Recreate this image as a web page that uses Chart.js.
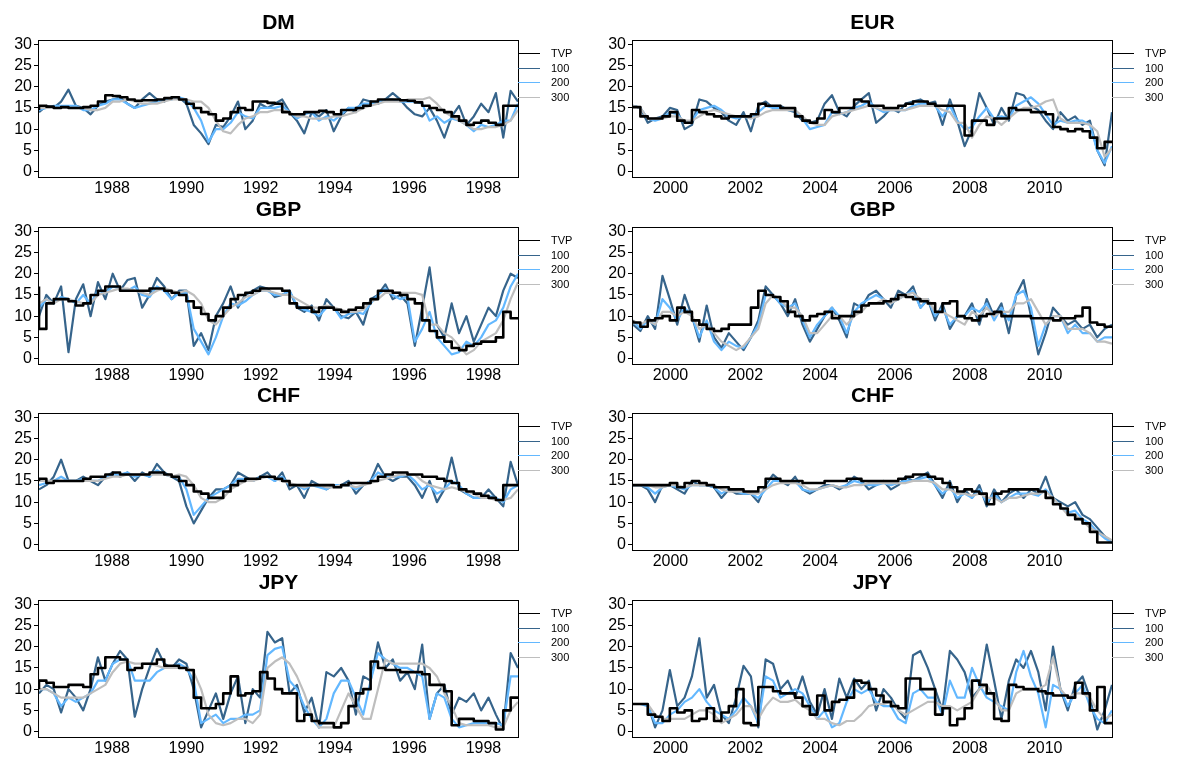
<!DOCTYPE html>
<html>
<head>
<meta charset="utf-8">
<script src="https://cdn.jsdelivr.net/npm/chart.js@4.4.1/dist/chart.umd.min.js"></script>
<style>
  html, body { margin: 0; padding: 0; background: #fff; }
  #wrap { position: relative; width: 1179px; height: 761px; overflow: hidden; background: #fff; }
  #wrap canvas { position: absolute; }
</style>
</head>
<body>
<div id="wrap"></div>
<script>
// Legend entries and their line colours
const seriesNames = ['TVP', '100', '200', '300'];
const seriesColors = ['#000000', '#36648B', '#63B8FF', '#BEBEBE'];

// Axis ticks
const yTicks = [0, 5, 10, 15, 20, 25, 30];
const yearsA = [1988, 1990, 1992, 1994, 1996, 1998];
const yearsB = [2000, 2002, 2004, 2006, 2008, 2010];

// Sample period covered by each column (decimal years)
const spanA = [1986.03, 1998.93];
const spanB = [1999.0, 2011.8];

// ---- DM, 1986-1998 ----
const dmTVP = [14.5, 15.5, 15.3, 15, 15.2,
  15, 15, 15.2, 15.5, 16.5,
  18, 17.8, 17.5, 17, 16.7,
  16.8, 16.8, 17, 17.3, 17.5,
  17, 16, 15, 14, 13.5,
  12, 12.5, 14, 15, 14.5,
  16.5, 16.5, 16.2, 16, 14,
  13.5, 13.5, 14, 14, 14.3,
  14, 13.5, 14.5, 14.5, 15,
  15.5, 16.5, 17, 17, 17,
  16.8, 16.7, 16.3, 15.5, 15,
  14.5, 14, 13, 12, 11,
  11.5, 12, 11.5, 11, 15.5, 15.5];
const dm100 = [14, 15.5, 15, 16.5, 19.3,
  15.5, 15, 13.5, 15.5, 16.5,
  17, 17.5, 16, 15, 17,
  18.5, 17, 16.5, 17.5, 17.5,
  16, 11, 9, 6.5, 11,
  10.5, 13, 16.5, 10, 12,
  16, 15, 16, 17, 14,
  12, 9, 14, 13, 14.5,
  9.5, 13, 15, 14, 17,
  16.5, 16, 17, 18.5, 17,
  15, 13.5, 13, 15, 12,
  8, 13, 15.5, 11, 13,
  16, 14, 18.5, 8, 19, 16.5];
const dm200 = [14.5, 15, 15.5, 15.5, 15.5,
  15.5, 14.5, 14.5, 15.5, 16,
  17, 17, 16, 15, 15.5,
  16, 16.5, 17, 17, 17.5,
  17, 15, 12, 7, 10,
  10, 11.5, 14, 13, 12.5,
  15, 15, 15, 15.5, 14,
  12.5, 13.5, 14, 12, 13,
  12, 13.5, 15, 15, 16,
  16, 16.5, 17, 17, 16.5,
  16.5, 16.5, 16, 12, 13,
  11.5, 12.5, 12, 11, 9.5,
  11, 10.5, 11, 12, 12, 16];
const dm300 = [15, 15, 15, 15, 15,
  15, 15, 14.5, 14.5, 15,
  16.5, 16.5, 17, 16.5, 16,
  16, 16, 16.5, 17, 17,
  17, 16.5, 16.5, 15, 12,
  9.5, 9, 11, 12.5, 13,
  14, 14, 14.5, 14.5, 14,
  13, 13, 12.5, 12.5, 12.5,
  13, 13, 13.5, 14, 15,
  15.5, 16, 16.5, 16.5, 16.5,
  17, 17, 17, 17.5, 16,
  14, 13, 12, 11, 10,
  10, 10.5, 10.5, 11, 12, 14.5];

// ---- EUR, 1999-2011 ----
const eurTVP = [15.5, 15.2, 13, 12.5, 12.5,
  13, 14, 12, 11.5, 14.5,
  14, 13.5, 13, 12.5, 13,
  13, 13, 13.5, 16, 15.5,
  15.5, 15, 15, 13, 12,
  11.5, 12.5, 14.5, 14, 15,
  15, 17, 16.5, 15.5, 15.5,
  15, 15, 15.5, 16, 16.5,
  16.5, 16, 15.5, 15.5, 15.5,
  15.5, 8.5, 12, 12, 11,
  12.5, 12.5, 15, 14.5, 14.5,
  14, 14, 13.5, 10.5, 10,
  9.5, 10, 9.5, 8, 5.5, 7];
const eur100 = [15.5, 15, 11.5, 12.5, 13,
  15, 14.5, 10, 11, 17,
  16.5, 15, 14, 12, 11,
  14, 9.5, 15.5, 16.5, 15,
  15.5, 14.5, 14, 12, 11.5,
  12, 16, 18, 14, 13,
  15.5, 17, 18.5, 11.5, 13,
  15, 14, 16, 16.5, 17,
  16, 16.5, 11, 17, 12,
  6, 10, 18.5, 15, 11,
  15, 12, 18.5, 18, 15.5,
  14.5, 12, 10, 14, 12,
  13, 11, 12, 5, 1.5, 14];
const eur200 = [15.5, 15, 12.5, 12, 12.5,
  14, 13.5, 11.5, 12, 14.5,
  15, 15.5, 14.5, 13, 12.5,
  13, 12.5, 14, 15.5, 15,
  15, 14.5, 14.5, 12.5, 10,
  10.5, 11, 14, 13.5, 14,
  15, 15.5, 16.5, 15, 14,
  14.5, 14.5, 14.5, 15.5, 16,
  16, 15.5, 13, 15.5, 12,
  10, 10.5, 13, 15, 12.5,
  13, 12.5, 15.5, 16.5, 17.5,
  16, 13.5, 11, 12, 11.5,
  12, 12, 11, 5, 2, 6];
const eur300 = [15.5, 15, 12.5, 12.5, 12.5,
  13, 13, 12, 12, 13,
  14, 14.5, 14, 13.5, 13,
  13, 12.5, 13, 14, 14.5,
  14.5, 14.5, 14.5, 13, 11.5,
  11, 11, 13, 13.5, 14,
  14.5, 15, 15.5, 15, 14.5,
  14.5, 14.5, 14.5, 15, 15.5,
  15.5, 15.5, 14.5, 14, 11.5,
  11.5, 8, 11, 13, 12.5,
  11, 12.5, 14, 15, 15,
  15.5, 16.5, 17, 12.5, 11.5,
  11.5, 11.5, 11, 9.5, 3.5, 5.5];

// ---- GBP, 1986-1998 ----
const gbpATVP = [17, 7, 13, 14, 14,
  13.5, 12.5, 13, 15, 16,
  17, 17, 16, 16, 16,
  16, 16.5, 16.5, 16, 15.5,
  15, 13.5, 12, 10.5, 9,
  10, 12, 14, 15, 15.5,
  16, 16.5, 16.5, 16.5, 16,
  13, 12, 12, 11, 12,
  12, 11.5, 11, 11.5, 12,
  13, 14, 16, 16, 15.5,
  15, 14, 13, 9, 6.5,
  5, 4, 2.5, 2, 3,
  3.5, 4, 4, 5, 11, 9.5];
const gbpA100 = [10, 15, 13, 17, 1.5,
  14, 17.5, 10, 18, 14,
  20, 16, 18.5, 19, 12,
  15, 19, 17, 14, 16,
  16, 3, 6, 2, 10,
  13, 17, 12, 15, 16,
  17, 16.5, 14.5, 15, 16,
  12, 11, 12.5, 9, 14,
  12, 10, 9.5, 11, 8,
  14, 15, 17.5, 14, 15,
  13, 3, 12, 21.5, 8,
  5, 13, 6, 10, 4,
  8, 12, 10, 16, 20, 19];
const gbpA200 = [12, 14, 13, 14.5, 14,
  13, 15, 13, 16, 15.5,
  17, 16.5, 16, 17, 15,
  14.5, 17, 16, 14, 15.5,
  15.5, 7, 4, 1, 5,
  10, 13, 12.5, 13.5, 15,
  16, 16, 15, 15, 16,
  12.5, 11.5, 11, 10, 12,
  12, 9.5, 10.5, 11, 10.5,
  13, 15, 16.5, 15, 14,
  14.5, 4, 7, 11, 5,
  3, 1, 1.5, 4, 3,
  5, 8, 9, 12, 17, 20];
const gbpA300 = [13, 14, 13, 14, 14,
  13.5, 13, 13, 15, 15.5,
  16, 16.5, 16.5, 16, 15.5,
  15, 16, 16.5, 16, 15.5,
  16, 15, 13, 9, 8,
  10, 12, 13, 14.5, 15,
  16, 16, 15.5, 15, 15,
  14, 13, 12, 12, 12.5,
  12, 11.5, 11, 11, 11.5,
  13.5, 14, 15.5, 15.5, 15.5,
  15.5, 15.5, 15, 8, 8,
  6, 5, 3, 1, 2,
  4, 5, 6, 9, 14, 18];

// ---- GBP, 1999-2011 ----
const gbpBTVP = [9, 8.5, 7.5, 9, 9.5,
  10, 9, 12, 11, 9,
  8, 7, 6.5, 7, 8,
  8, 8, 12, 16, 15,
  14.5, 13.5, 11, 10, 9,
  10, 10.5, 11, 9.5, 10,
  10, 11, 12.5, 13, 13,
  13.5, 14, 15, 14.5, 14,
  13.5, 13, 11, 13, 13.5,
  10, 9.5, 9, 10, 10.5,
  11, 10, 10, 10, 10,
  9.5, 9.5, 9.5, 9, 9.5,
  9.5, 10, 12, 8.5, 8, 7.5];
const gbpB100 = [8, 6.5, 10, 7, 19.5,
  14, 8, 15, 10, 4,
  12.5, 5, 2.5, 6, 4,
  2, 5, 9, 17, 15,
  13, 10, 14, 8, 4,
  7, 10, 12, 9, 5,
  13, 12, 15, 16, 14,
  12, 16, 15, 17, 12,
  14, 9, 13, 7, 10,
  10, 13, 8, 14, 10,
  13, 6, 15, 18.5, 10,
  1, 6, 12, 10, 8,
  9, 7, 8, 5, 7, 8];
const gbpB200 = [9, 7, 9, 8, 14,
  12, 9, 12, 10, 5,
  9, 4, 2, 4, 3,
  2.5, 5, 8, 15, 15,
  13, 12, 13, 9, 5,
  8, 10, 12, 10, 6,
  11, 13, 14, 15, 14,
  13, 14, 15, 16, 12,
  14, 10, 12, 8, 10,
  10, 12, 11, 13, 9,
  12, 9, 15, 16, 12,
  3, 8, 10, 10, 6,
  8, 6, 6, 4, 5, 5];
const gbpB300 = [9, 8, 9, 8, 11,
  11, 10, 11, 10, 7,
  8, 6, 4, 3, 2,
  3, 5, 7, 13, 15,
  14, 12, 12, 10, 6,
  6, 8, 10, 10, 8,
  10, 11, 13, 13, 14,
  13, 14, 15, 15.5, 14,
  14, 11, 11, 10, 9,
  8, 11, 10, 12, 10,
  11, 11, 13, 13, 14,
  11, 8, 10, 10, 7,
  7, 7, 6, 4, 4, 3.5];

// ---- CHF, 1986-1998 ----
const chfATVP = [15, 15.5, 14.5, 15, 15,
  15, 15, 15.5, 16, 16,
  16.5, 17, 16.5, 16.5, 16.5,
  16.5, 17, 17, 16.5, 16,
  15, 14, 12.5, 12, 11,
  11, 12.5, 14, 15, 15.5,
  15.5, 16, 16, 15.5, 15,
  14, 14, 14, 14, 14,
  14, 13.5, 14, 14.5, 14.5,
  14.5, 15, 16, 16.5, 17,
  17, 16.5, 16.5, 16, 16,
  15.5, 15, 14.5, 13, 12.5,
  12, 11.5, 11, 10.5, 14, 14];
const chfA100 = [13, 14, 16, 20, 15,
  15, 16, 15, 14, 16,
  17, 16, 17, 15, 17,
  16, 19, 17, 16, 15,
  9, 5, 8, 11, 13,
  13, 14, 17, 16, 15,
  16, 17, 15, 17, 13,
  14, 11, 15, 14, 13,
  14, 14, 15, 12, 14,
  15, 19, 16, 15, 16,
  16, 14, 11, 15, 10,
  13, 20.5, 13, 12, 11,
  11, 13, 11, 9, 19.5, 14];
const chfA200 = [14, 14.5, 15, 16, 15,
  15, 15.5, 15, 15, 16,
  16.5, 16.5, 17, 16, 16.5,
  16, 17.5, 16.5, 16, 16,
  13, 7, 9, 11, 12,
  13, 14, 15.5, 15.5, 15,
  16, 16, 15, 16, 14,
  14, 13, 14, 13.5, 13,
  14, 14, 14, 13, 14,
  15, 17, 16, 16, 16,
  16.5, 15, 13, 14, 12,
  13, 15, 14, 12, 11,
  11, 11.5, 11, 10, 13, 14];
const chfA300 = [15, 15, 15, 15, 15,
  15, 15, 15, 15, 15.5,
  16, 16, 16.5, 16.5, 16.5,
  16.5, 16.5, 16.5, 16, 16.5,
  16, 14, 11, 10, 10,
  11, 13, 14, 15, 15,
  15.5, 16, 15.5, 15, 14.5,
  14, 13.5, 14, 14, 13.5,
  13.5, 14, 14, 13.5, 14,
  14.5, 15, 15.5, 16, 16.5,
  16.5, 16.5, 15, 14, 13.5,
  13, 13.5, 13, 12.5, 12,
  11, 11, 10.5, 10.5, 11, 13];

// ---- CHF, 1999-2011 ----
const chfBTVP = [14, 14, 14, 14, 14,
  14, 14.5, 13.5, 14.5, 15,
  14.5, 14, 13.5, 13.5, 13,
  13, 12.5, 12.5, 13.5, 15.5,
  15.5, 15, 15, 15, 14.5,
  14.5, 14.5, 15, 15, 15,
  15.5, 15.5, 15, 15, 15,
  15, 15, 15.5, 16, 16.5,
  16.5, 16, 15.5, 14.5, 13.5,
  12.5, 13, 12.5, 12, 9.5,
  12, 12.5, 13, 13, 13,
  13, 12.5, 11, 9.5, 8.5,
  7, 6, 5, 3, 0.5, 0.5];
const chfB100 = [14, 14, 13, 10, 14,
  14, 13, 12, 15, 14,
  14, 13.5, 11, 13, 12,
  12, 12, 10, 14, 16.5,
  15, 14, 16, 13, 12,
  13, 14, 14, 13, 14,
  16, 15, 13, 14, 15,
  13, 14, 16, 15, 16,
  17, 14, 11, 15, 10,
  13, 11, 14, 9, 13,
  10, 12, 13, 11, 13,
  12, 16, 11, 10, 9,
  10, 7, 6, 4, 2, 0.5];
const chfB200 = [14, 14, 13.5, 12, 13.5,
  14, 13.5, 13, 14, 14,
  14, 13.5, 12, 13, 12.5,
  12, 12, 11, 13, 15,
  15, 14.5, 15, 13, 12.5,
  13, 13.5, 14, 13.5, 14,
  15, 14.5, 14, 14, 14.5,
  14, 14.5, 15, 15, 15.5,
  16, 14, 12, 13.5, 11,
  12, 11, 13, 10, 12,
  10, 11, 12, 12, 12,
  11.5, 13, 11, 9, 7.5,
  8, 6, 5, 3, 1.5, 0.5];
const chfB300 = [14, 14, 14, 13.5, 13.5,
  14, 14, 13.5, 14, 14,
  14, 14, 13, 12.5, 12.5,
  12.5, 12, 12, 13, 14,
  14.5, 14.5, 14.5, 14, 13,
  13, 13.5, 14, 13.5, 13.5,
  14, 14, 14.5, 14.5, 14.5,
  14.5, 14.5, 14.5, 15, 15,
  15, 14.5, 13, 13, 12,
  12, 11.5, 12, 11, 11,
  10, 11, 11, 11.5, 12,
  12, 12.5, 11, 9, 7,
  7, 5.5, 4, 3, 2, 1];

// ---- JPY, 1986-1998 ----
const jpyATVP = [10, 12, 11.5, 10.5, 10.5,
  11, 11, 10.5, 13.5, 15,
  17.5, 17.5, 17, 14.5, 15,
  16, 16, 17, 15.5, 15.5,
  15, 14.5, 8, 5.5, 5.5,
  6.5, 9, 13, 8.5, 9,
  9.5, 14, 12.5, 10, 9,
  9, 2.5, 4, 2.5, 2,
  2, 1, 2, 6, 9,
  10, 16.5, 15, 14.5, 14.5,
  14, 14, 14, 13.5, 11,
  11, 9.5, 1.5, 3, 3,
  2.5, 2.5, 2, 0.5, 5, 8];
const jpyA100 = [9, 11, 10, 4.5, 10,
  8, 5, 10, 17.5, 12,
  16, 19, 17, 3.5, 10,
  15, 19.5, 16, 15, 17,
  16, 10, 1, 5, 9,
  3, 9, 13, 2, 10,
  8, 23.5, 21, 22, 9,
  11, 4.5, 8, 1, 14,
  13, 15, 12, 4, 13,
  12, 21, 15, 17, 12,
  14, 10, 20.5, 3, 9,
  11, 4, 8, 7, 9,
  5, 8, 4, 0.5, 18.5, 15];
const jpyA200 = [10, 10, 9, 6, 8,
  7, 8, 9, 12, 12,
  16, 17, 17, 12, 12,
  12, 14, 15, 15, 16,
  15, 12, 2, 3, 4,
  2, 3, 3, 4, 4,
  5, 18, 19.5, 20, 12,
  10, 6, 3, 1, 3,
  9, 12, 12, 8, 4,
  12, 18.5, 17, 16, 15,
  15, 14, 13, 3, 9,
  8, 3, 1, 1.5, 2,
  2, 2, 2, 1.5, 13, 13];
const jpyA300 = [10, 10, 9, 8, 8,
  8, 8, 9, 10, 11,
  14, 16, 16.5, 16, 16,
  16, 15.5, 15, 15, 15,
  15, 14, 10, 4, 2,
  1.5, 2, 3, 3, 2,
  4, 15, 16.5, 17.5, 16,
  13, 9, 4, 1, 1,
  1, 5, 9, 6, 3,
  3, 10, 17, 16, 16,
  16, 16, 16, 15, 13,
  9, 6, 2, 1.5, 1.5,
  1.5, 1.5, 1, 1, 5, 7];

// ---- JPY, 1999-2011 ----
const jpyBTVP = [6.5, 6.5, 6.5, 4, 3.5,
  2.5, 5.5, 4.5, 5, 2.5,
  3, 5.5, 2.5, 4.5, 6,
  10, 2, 1.5, 10.5, 10.5,
  9.5, 9, 9, 8, 6,
  4, 8.5, 5, 7, 7.5,
  8, 12, 11.5, 10, 8.5,
  7, 6, 5.5, 12.5, 12.5,
  10, 10, 4, 5.5, 1.5,
  3, 5.5, 12, 11, 9,
  3, 2.5, 11, 10.5, 10,
  10, 9.5, 9, 8.5, 8.5,
  8, 11.5, 9, 5, 10.5, 2];
const jpyB100 = [6.5, 6.5, 6.5, 1, 5,
  14.5, 6, 8, 13, 22,
  8, 11, 4, 2, 8,
  15.5, 13, 1, 17, 16,
  10, 12, 8, 13, 7,
  4, 10, 3, 12.5, 8,
  12.5, 10, 12, 5, 10,
  8, 5, 3, 18, 19,
  15, 10, 5, 19, 17,
  14, 8, 10, 20.5, 12,
  3, 12, 17, 15, 19,
  14, 5, 20, 10, 5,
  11, 13, 8, 0.5, 5, 11];
const jpyB200 = [6.5, 6.5, 6, 2, 2,
  4, 5, 7, 8, 10,
  7, 5, 4, 3, 5,
  8, 6, 2, 13, 12,
  8, 9, 10, 9, 6,
  3, 5, 1, 2, 7,
  10, 9, 10, 7, 6,
  6, 3, 2, 9, 10,
  8, 8, 4, 12, 8,
  8, 15, 11, 8, 7,
  6, 5, 14, 19, 13,
  9, 1, 11, 10, 6,
  9, 11, 6, 3, 2, 5];
const jpyB300 = [6.5, 6.5, 6.5, 4, 3,
  3, 3, 3, 4, 5,
  5, 4, 2, 3, 4,
  6, 6, 3, 6, 8,
  7, 7, 7.5, 6, 5,
  3, 3, 2, 1.5, 2.5,
  2.5, 4, 6, 6.5, 6.5,
  7, 5, 4, 5, 6,
  7, 7, 6, 6, 5,
  6, 7, 10, 11, 8,
  5, 5, 9, 10, 10,
  10, 11, 17.5, 10, 8,
  9, 9, 8, 5, 3, 4];

const panels = [
  { title: 'DM',  col: 0, row: 0, span: spanA, years: yearsA, series: [dmTVP, dm100, dm200, dm300] },
  { title: 'EUR', col: 1, row: 0, span: spanB, years: yearsB, series: [eurTVP, eur100, eur200, eur300] },
  { title: 'GBP', col: 0, row: 1, span: spanA, years: yearsA, series: [gbpATVP, gbpA100, gbpA200, gbpA300] },
  { title: 'GBP', col: 1, row: 1, span: spanB, years: yearsB, series: [gbpBTVP, gbpB100, gbpB200, gbpB300] },
  { title: 'CHF', col: 0, row: 2, span: spanA, years: yearsA, series: [chfATVP, chfA100, chfA200, chfA300] },
  { title: 'CHF', col: 1, row: 2, span: spanB, years: yearsB, series: [chfBTVP, chfB100, chfB200, chfB300] },
  { title: 'JPY', col: 0, row: 3, span: spanA, years: yearsA, series: [jpyATVP, jpyA100, jpyA200, jpyA300] },
  { title: 'JPY', col: 1, row: 3, span: spanB, years: yearsB, series: [jpyBTVP, jpyB100, jpyB200, jpyB300] }
];

const FONT = '"Liberation Sans", Arial, Helvetica, sans-serif';
const ROW_H = 186.67;
const CANVAS_H = 200;
const PLOT_TOP = 40;
const PLOT_BOTTOM = 176.7;
const XAXIS_H = 20;

// Frame, panel title and side legend drawn on top of the plot
const decorations = {
  id: 'decorations',
  afterDraw(chart, args, opts) {
    const { ctx, chartArea: a } = chart;
    ctx.save();
    ctx.strokeStyle = '#000';
    ctx.lineWidth = 1;
    ctx.strokeRect(Math.round(a.left) - 0.5, Math.round(a.top) + 0.5,
                   Math.round(a.right - a.left) + 1, Math.round(a.bottom - a.top));
    ctx.fillStyle = '#000';
    ctx.font = 'bold 21px ' + FONT;
    ctx.textAlign = 'center';
    ctx.textBaseline = 'alphabetic';
    ctx.fillText(opts.title, (a.left + a.right) / 2, 29);
    ctx.font = '11px ' + FONT;
    ctx.textAlign = 'left';
    ctx.textBaseline = 'middle';
    seriesNames.forEach((name, k) => {
      const y = Math.round(a.top + 13.3 + k * 14.45) + 0.5;
      ctx.strokeStyle = seriesColors[k];
      ctx.beginPath();
      ctx.moveTo(a.right, y);
      ctx.lineTo(a.right + 22, y);
      ctx.stroke();
      ctx.fillStyle = '#000';
      ctx.fillText(name, a.right + 33, y);
    });
    ctx.restore();
  }
};

const wrap = document.getElementById('wrap');

panels.forEach(p => {
  const W = p.col === 0 ? 589 : 590;
  const plotLeft = p.col === 0 ? 39 : 44;
  const plotRight = p.col === 0 ? 518 : 523;
  const canvas = document.createElement('canvas');
  canvas.width = W;
  canvas.height = CANVAS_H;
  canvas.style.left = (p.col === 0 ? 0 : 589) + 'px';
  canvas.style.top = Math.round(p.row * ROW_H) + 'px';
  wrap.appendChild(canvas);

  const n = p.series[0].length;
  const xs = p.series[0].map((_, i) => p.span[0] + (p.span[1] - p.span[0]) * i / (n - 1));

  const datasets = p.series.map((vals, k) => ({
    label: seriesNames[k],
    data: vals.map((v, i) => ({ x: xs[i], y: v })),
    borderColor: seriesColors[k],
    borderWidth: k === 0 ? 2.6 : 2.2,
    pointRadius: 0,
    tension: 0,
    stepped: k === 0 ? 'after' : false,
    fill: false,
    borderJoinStyle: 'round',
    order: k === 0 ? 0 : 4 - k
  }));

  new Chart(canvas, {
    type: 'line',
    data: { datasets },
    plugins: [decorations],
    options: {
      responsive: false,
      animation: false,
      devicePixelRatio: 1,
      events: [],
      layout: {
        padding: { left: 0, right: W - plotRight, top: PLOT_TOP, bottom: CANVAS_H - PLOT_BOTTOM - XAXIS_H }
      },
      plugins: {
        legend: { display: false },
        tooltip: { enabled: false },
        title: { display: false },
        decorations: { title: p.title }
      },
      scales: {
        x: {
          type: 'linear',
          min: p.span[0],
          max: p.span[1],
          afterBuildTicks: s => { s.ticks = p.years.map(v => ({ value: v })); },
          afterFit: s => { s.height = XAXIS_H; },
          grid: { display: false, drawTicks: false },
          border: { display: false },
          ticks: {
            font: { family: FONT, size: 16 },
            color: '#000',
            padding: 2,
            maxRotation: 0,
            autoSkip: false,
            callback: v => String(v)
          }
        },
        y: {
          type: 'linear',
          min: -1.2,
          max: 31,
          afterBuildTicks: s => { s.ticks = yTicks.map(v => ({ value: v })); },
          afterFit: s => { s.width = plotLeft; },
          grid: { drawOnChartArea: false, drawTicks: true, tickLength: 5, color: '#000', lineWidth: 1 },
          border: { display: false },
          ticks: {
            font: { family: FONT, size: 16 },
            color: '#000',
            padding: 2,
            autoSkip: false,
            callback: v => String(v)
          }
        }
      }
    }
  });
});
</script>
</body>
</html>
